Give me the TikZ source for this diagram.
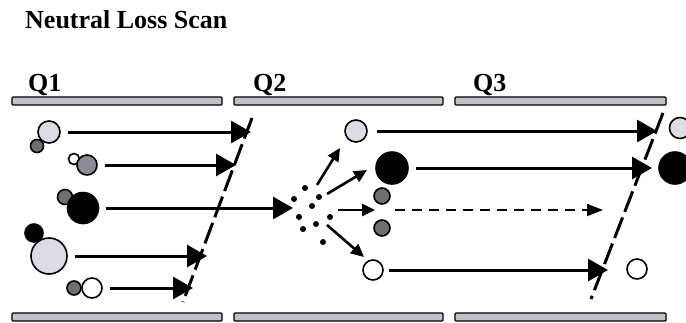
\documentclass[tikz,border=0pt]{standalone}
\usepackage{fontspec}
\setmainfont{Liberation Serif}
\usetikzlibrary{arrows.meta}

\definecolor{ionlight}{RGB}{220,220,228}
\definecolor{iongray}{RGB}{140,140,148}
\definecolor{iondark}{RGB}{110,110,115}
\definecolor{rodgray}{RGB}{192,192,200}

\begin{document}
\begin{tikzpicture}[x=1pt,y=-1pt,
      ion/.style={circle,draw,line width=1.6pt,inner sep=0pt,minimum size=#1},
      rod/.style={draw,line width=1.4pt,fill=rodgray,rounded corners=1pt},
      beam/.style={line width=3pt,-{Triangle[length=20pt,width=22pt]}},
      frag/.style={line width=2.6pt,-{Triangle[length=13pt,width=12pt]}},
      lost/.style={line width=1.8pt,dash pattern=on 10pt off 7pt,-{Triangle[length=16pt,width=12pt]}},
      gate/.style={line width=3pt,dash pattern=on 22pt off 6pt},
      qlabel/.style={font=\fontsize{26}{30}\selectfont\bfseries,anchor=base west,inner sep=0pt}]
      \clip (0,0) rectangle (686,322);

      \node[qlabel] (title) at (25,28) {Neutral Loss Scan};
      \node[qlabel] (q_1) at (28,91) {Q1};
      \node[qlabel] (q_2) at (253,91) {Q2};
      \node[qlabel] (q_3) at (473,91) {Q3};

      % rods, top and bottom
      \foreach \xa/\xb in {12/222,234/443,455/666} {
        \draw[rod] (\xa,97) rectangle (\xb,105);
        \draw[rod] (\xa,313) rectangle (\xb,321);
      }

      % precursor ions entering Q1
      \node[ion=13pt,fill=iondark]  (p_1b) at (37,146) {};
      \node[ion=22pt,fill=ionlight] (p_1)  at (49,132) {};
      \node[ion=11pt,fill=white]    (p_2b) at (74,159) {};
      \node[ion=20pt,fill=iongray]  (p_2)  at (87,165) {};
      \node[ion=15pt,fill=iondark]  (p_3b) at (65,197) {};
      \node[ion=31pt,fill=black]    (p_3)  at (83,208) {};
      \node[ion=18pt,fill=black]    (p_4b) at (34,233) {};
      \node[ion=36pt,fill=ionlight] (p_4)  at (49,256) {};
      \node[ion=14pt,fill=iondark]  (p_5b) at (74,288) {};
      \node[ion=20pt,fill=white]    (p_5)  at (92,288) {};

      % scan lines
      \coordinate (g_1a) at (252,118); \coordinate (g_1b) at (183,302);
      \coordinate (g_3a) at (663,113); \coordinate (g_3b) at (591,299);
      \draw[gate] (g_1a) -- (g_1b);
      \draw[gate] (g_3a) -- (g_3b);

      \coordinate (t_1) at (251,132);
      \coordinate (t_2) at (236,165);
      \coordinate (t_3) at (293,208);
      \coordinate (t_4) at (207,256);
      \coordinate (t_5) at (193,288);
      \foreach \i in {1,...,5}
        \draw[beam] ([xshift=7pt]p_\i.east) -- (t_\i);

      % collision cell
      \foreach \dx/\dy [count=\i] in {305/188,294/199,319/197,312/206,299/217,
                                      330/217,316/224,303/229,323/242}
        \fill (\dx,\dy) circle (3pt) coordinate (d_\i);
      \foreach \sx/\sy/\ex/\ey [count=\i] in {317/185/340/148,327/194/367/170,
                                              338/210/375/210,327/225/364/257} {
        \coordinate (fs_\i) at (\sx,\sy);
        \coordinate (fe_\i) at (\ex,\ey);
        \draw[frag] (fs_\i) -- (fe_\i);
      }

      % product ions
      \node[ion=22pt,fill=ionlight] (f_1) at (356,131) {};
      \node[ion=32pt,fill=black]    (f_2) at (392,168) {};
      \node[ion=16pt,fill=iondark]  (f_3) at (382,196) {};
      \node[ion=16pt,fill=iondark]  (f_4) at (382,228) {};
      \node[ion=20pt,fill=white]    (f_5) at (373,270) {};

      \coordinate (u_1) at (657,131);
      \coordinate (u_2) at (652,168);
      \coordinate (u_5) at (608,270);
      \draw[beam] ([xshift=9pt]f_1.east) -- (u_1);
      \draw[beam] ([xshift=7pt]f_2.east) -- (u_2);
      \draw[beam] ([xshift=5pt]f_5.east) -- (u_5);
      \coordinate (n_s) at (395,210); \coordinate (n_e) at (603,210);
      \draw[lost] (n_s) -- (n_e);

      % ions reaching the detector
      \node[ion=21pt,fill=ionlight] (o_1) at (680,128) {};
      \node[ion=32pt,fill=black]    (o_2) at (675,168) {};
      \node[ion=20pt,fill=white]    (o_3) at (637,269) {};
\end{tikzpicture}
\end{document}
